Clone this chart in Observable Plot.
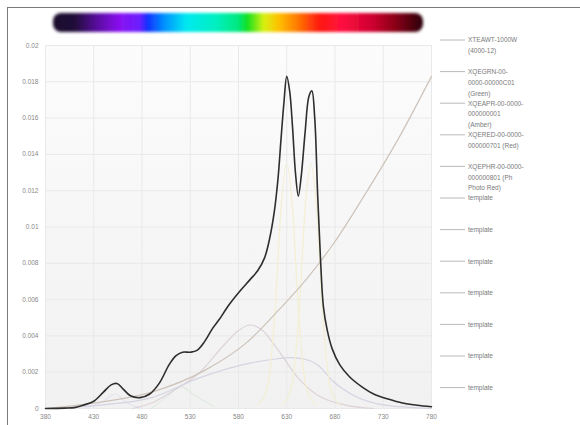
<!DOCTYPE html>
<html><head><meta charset="utf-8">
<script src="https://cdn.jsdelivr.net/npm/d3@7"></script>
<script src="https://cdn.jsdelivr.net/npm/@observablehq/plot@0.6"></script>
<style>
body{margin:0;background:#fff;}
#wrap{position:relative;width:580px;height:425px;overflow:hidden;}
#chart{position:absolute;left:0;top:0;}
#border{position:absolute;left:7px;top:7px;width:620px;height:440px;border-top:1px solid #7a7a7a;border-left:1px solid #7a7a7a;pointer-events:none;}
</style></head><body>
<div id="wrap"><div id="chart"></div><div id="border"></div></div>
<script>
const xTicks = [380, 430, 480, 530, 580, 630, 680, 730, 780];
const yTicks = [0, 0.002, 0.004, 0.006, 0.008, 0.01, 0.012, 0.014, 0.016, 0.018, 0.02];

// total spectrum (black curve)
const totalNm  = [380,400,410,420,430,440,448,454,460,468,478,488,498,508,515,522,530,537,545,553,560,570,582,592,600,607,612,617,621,624,627,630,633,636,639,642,645,649,653,656,659,662,665,668,672,677,685,695,709,720,735,750,765,780];
const totalVal = [0,0.00002,0.00005,0.0002,0.0004,0.0009,0.0013,0.00138,0.0011,0.0007,0.0006,0.0008,0.0014,0.0024,0.0029,0.0031,0.0031,0.0032,0.0037,0.0044,0.0049,0.0057,0.0065,0.0071,0.0076,0.0083,0.0093,0.0108,0.0127,0.0148,0.0168,0.0183,0.0175,0.0155,0.0130,0.0117,0.0128,0.0152,0.0172,0.0175,0.0160,0.0118,0.0082,0.0056,0.0043,0.0033,0.0024,0.00175,0.00115,0.0008,0.00052,0.0003,0.00018,0.0001];

// component curves (light)
const riseNm  = [380,430,490,545,590,623,650,680,710,745,780];
const riseVal = [0,0.0003,0.0009,0.0021,0.0037,0.0055,0.0071,0.0092,0.0117,0.0148,0.0183];
const humpNm  = [470,490,510,540,565,580,592,605,620,640,660,690,720];
const humpVal = [0,0.0003,0.0009,0.0020,0.0035,0.0043,0.0046,0.0043,0.0033,0.0018,0.0008,0.0002,0];
const broadNm  = [380,440,490,540,592,615,634,650,662,678,700,730,780];
const broadVal = [0,0.0002,0.0006,0.0017,0.0025,0.0027,0.0028,0.0027,0.0024,0.0015,0.0007,0.0002,0];
const blueNm  = [420,440,452,465,480];
const blueVal = [0,0.0004,0.0008,0.0003,0];
const greenNm  = [490,505,520,535,555];
const greenVal = [0,0.0006,0.0012,0.0007,0.0001];
const red1Nm  = [600,610,618,624,630,636,642,650,660];
const red1Val = [0.0002,0.0012,0.0055,0.011,0.0135,0.011,0.0055,0.0012,0.0002];
const red2Nm  = [625,635,643,649,655,661,667,675,685];
const red2Val = [0.0002,0.0012,0.0055,0.011,0.0135,0.011,0.0055,0.0012,0.0002];

const components = [
  {nm: blueNm,  val: blueVal,  color: "#e4e4f0"},
  {nm: greenNm, val: greenVal, color: "#e0ebe0"},
  {nm: humpNm,  val: humpVal,  color: "#ddd3d8"},
  {nm: broadNm, val: broadVal, color: "#d4d4e2"},
  {nm: red1Nm,  val: red1Val,  color: "#f3efd2"},
  {nm: red2Nm,  val: red2Val,  color: "#f3efd2"},
  {nm: riseNm,  val: riseVal,  color: "#cdc3ba"}
];

const legendLabels = [
  ["XTEAWT-1000W", "(4000-12)"],
  ["XQEGRN-00-", "0000-00000C01", "(Green)"],
  ["XQEAPR-00-0000-", "000000001", "(Amber)"],
  ["XQERED-00-0000-", "000000701 (Red)"],
  ["XQEPHR-00-0000-", "000000801 (Ph", "Photo Red)"],
  ["template"], ["template"], ["template"], ["template"], ["template"], ["template"], ["template"]
];

const spectrumStops = [
  [0.00,"#1a0f2a"],[0.06,"#200a3a"],[0.12,"#5a0aa0"],[0.18,"#8a10f0"],[0.235,"#6a20ff"],
  [0.255,"#1030ff"],[0.30,"#0090ff"],[0.36,"#00e8f0"],[0.44,"#00f0c0"],[0.50,"#00e880"],
  [0.525,"#10e020"],[0.57,"#d8f010"],[0.61,"#ffc000"],[0.66,"#ff7a00"],[0.72,"#ff1a10"],
  [0.78,"#ff1040"],[0.86,"#d00030"],[0.92,"#900018"],[1.00,"#2a0508"]
];

const toRows = (nm, val) => nm.map((d, i) => ({nm: d, v: val[i]}));

const marks = [
  Plot.frame({fill: "url(#bgGrad)", stroke: null}),
  Plot.gridX(xTicks, {stroke: "#e9e9e9", strokeOpacity: 1, strokeWidth: 1}),
  Plot.gridY(yTicks, {stroke: "#e9e9e9", strokeOpacity: 1, strokeWidth: 1}),
  ...components.map(c => Plot.line(toRows(c.nm, c.val), {x: "nm", y: "v", stroke: c.color, strokeWidth: 1.2, curve: "monotone-x"})),
  Plot.line(toRows(totalNm, totalVal), {x: "nm", y: "v", stroke: "#2e2e2e", strokeWidth: 1.6, curve: "catmull-rom"})
];

const chart = Plot.plot({
  width: 580, height: 425,
  marginLeft: 45, marginRight: 149, marginTop: 45, marginBottom: 17,
  style: {background: "transparent", fontFamily: "Liberation Sans, Arial, sans-serif", fontSize: "6.5px", color: "#888"},
  x: {domain: [380, 780], ticks: xTicks, tickSize: 0, tickPadding: 6, tickFormat: d => String(d), label: null},
  y: {domain: [0, 0.02], ticks: yTicks, tickSize: 0, tickPadding: 7, tickFormat: d => String(d), label: null},
  marks
});
document.getElementById("chart").appendChild(chart);

const svg = d3.select(chart);
const defs = svg.insert("defs", ":first-child");
const bg = defs.append("linearGradient").attr("id", "bgGrad").attr("x1", 0).attr("y1", 0).attr("x2", 0).attr("y2", 1);
bg.append("stop").attr("offset", 0).attr("stop-color", "#fcfcfc");
bg.append("stop").attr("offset", 1).attr("stop-color", "#f1f1f1");
const sg = defs.append("linearGradient").attr("id", "specGrad").attr("x1", 0).attr("y1", 0).attr("x2", 1).attr("y2", 0);
spectrumStops.forEach(([o, c]) => sg.append("stop").attr("offset", o).attr("stop-color", c));
const blur = defs.append("filter").attr("id", "specBlur").attr("x", "-10%").attr("y", "-50%").attr("width", "120%").attr("height", "200%");
blur.append("feGaussianBlur").attr("stdDeviation", 1.4);

svg.append("rect").attr("x", 53).attr("y", 13).attr("width", 370).attr("height", 19)
  .attr("rx", 8).attr("fill", "url(#specGrad)").attr("filter", "url(#specBlur)");

const lg = svg.append("g").attr("font-size", "6.5px").attr("fill", "#7a7a7a")
  .attr("text-anchor", "start")
  .attr("font-family", "Liberation Sans, Arial, sans-serif");
legendLabels.forEach((lines, i) => {
  const y = 40 + i * 31.6;
  lg.append("line").attr("x1", 440).attr("x2", 465).attr("y1", y).attr("y2", y)
    .attr("stroke", "#a8a8a8").attr("stroke-width", 0.8);
  const t = lg.append("text").attr("x", 468).attr("y", y + 2.3).attr("text-anchor", "start");
  lines.forEach((s, j) => t.append("tspan").attr("x", 468).attr("dy", j === 0 ? 0 : 10.8).text(s));
});
</script>
</body></html>
